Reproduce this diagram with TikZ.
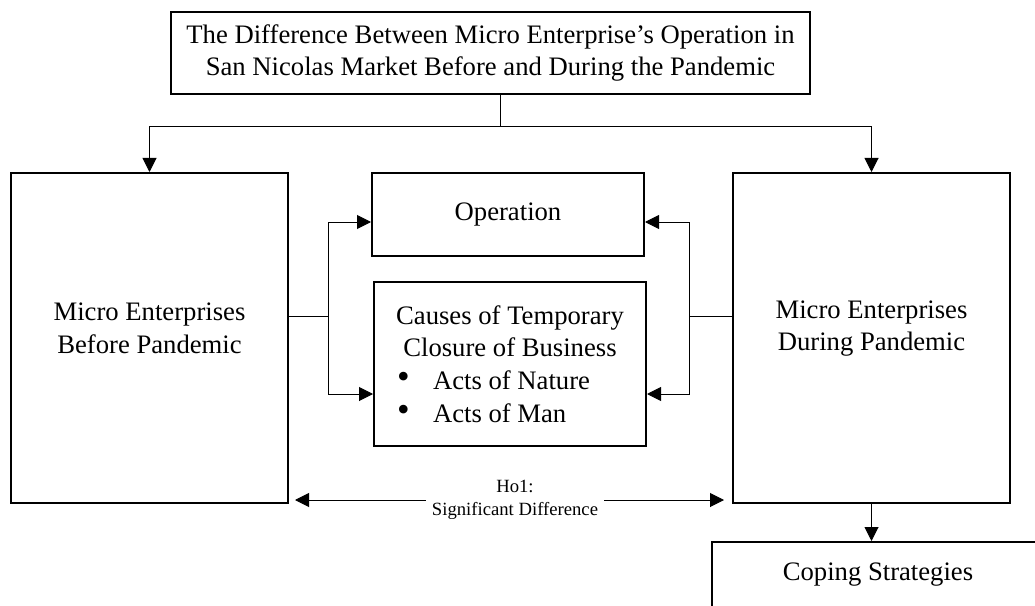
\documentclass[tikz,border=0pt]{standalone}
\usepackage{fontspec}
\setmainfont{Liberation Serif}
\usetikzlibrary{arrows.meta}
\newcommand{\bigbul}{\raisebox{0.5pt}{\fontsize{27}{24.5}\selectfont\textbullet}}
\begin{document}
\begin{tikzpicture}[x=0.75pt,y=-0.75pt,
  box/.style={draw,line width=1.5pt,inner sep=0pt,align=center,font=\fontsize{20}{24.5}\selectfont},
  txt/.style={inner sep=0pt,align=center,font=\fontsize{20}{24.5}\selectfont},
  conn/.style={line width=0.75pt},
  arr/.style={conn,-{Triangle[length=10.5pt,width=10.5pt]}}]
\useasboundingbox (0,0) rectangle (1035,606);
\clip (0,0) rectangle (1035,606);
% boxes
\node[box,minimum width=479.25pt,minimum height=61.5pt] (top) at (490.5,53)
  {The Difference Between Micro Enterprise’s Operation in\\San Nicolas Market Before and During the Pandemic};
\node[box,minimum width=207.75pt,minimum height=247.5pt] (left) at (149.5,338) {};
\node[txt] (lefttext) at (149.5,328.5) {Micro Enterprises\\Before Pandemic};
\node[box,minimum width=207.75pt,minimum height=247.5pt] (right) at (871.5,338) {};
\node[txt] (righttext) at (871.5,328.5) {Micro Enterprises\\During Pandemic};
\node[box,minimum width=204pt,minimum height=62.25pt] (op) at (508,214.5) {Operation};
\node[box,minimum width=204pt,minimum height=123pt] (causes) at (510,364)
  {Causes of Temporary\\Closure of Business\\
   \makebox[169.5pt][l]{\makebox[27pt][l]{\bigbul}Acts of Nature}\\
   \makebox[169.5pt][l]{\makebox[27pt][l]{\bigbul}Acts of Man}};
\node[box,minimum width=249pt,minimum height=49.5pt] (coping) at (878,575) {Coping Strategies};
\node[inner sep=4.5pt,align=center,font=\fontsize{14}{17}\selectfont] (ho) at (515,500)
  {Ho1:\\Significant Difference};
% connectors
\coordinate (j) at (500,127);
\draw[conn] (top.south -| j) -- (j);
\draw[arr] (j) -| (left.north);
\draw[arr] (j) -| (right.north);
\coordinate (lb) at (328,316);
\coordinate (lt) at (328,222);
\coordinate (lbt) at (328,394);
\draw[conn] (left.east |- lb) -- (lb);
\draw[arr] (lb) -- (lt) -- (op.west |- lt);
\draw[arr] (lb) -- (lbt) -- (causes.west |- lbt);
\coordinate (rb) at (689,316);
\coordinate (rt) at (689,222);
\coordinate (rbt) at (689,394);
\draw[conn] (right.west |- rb) -- (rb);
\draw[arr] (rb) -- (rt) -- (op.east |- rt);
\draw[arr] (rb) -- (rbt) -- (causes.east |- rbt);
\draw[arr] (right.south) -- (coping.north -| right.south);
\draw[arr,shorten >=4.5pt] (ho.west) -- (left.east |- ho.west);
\draw[arr,shorten >=6pt] (ho.east) -- (right.west |- ho.east);
\end{tikzpicture}
\end{document}
